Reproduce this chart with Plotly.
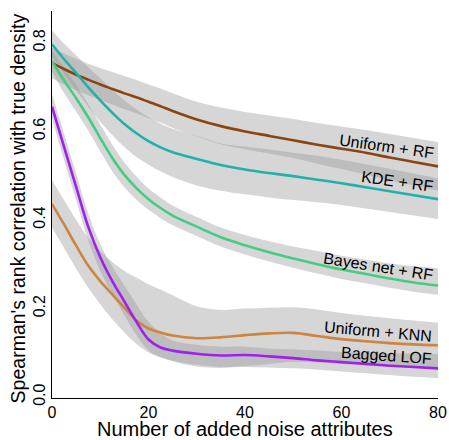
import plotly.graph_objects as go

# ---- data ----
x_noise = [0, 2.5, 5, 7.5, 10, 12.5, 15, 17.5, 20, 22.5, 25, 30, 35, 40, 45, 50, 55, 60, 65, 70, 75, 80]

uniform_rf = [0.755, 0.741, 0.728, 0.717, 0.706, 0.696, 0.686, 0.677, 0.667, 0.657, 0.646, 0.627, 0.612, 0.600, 0.590, 0.580, 0.570, 0.561, 0.552, 0.541, 0.531, 0.521]
uniform_rf_lo = [0.720, 0.706, 0.693, 0.682, 0.671, 0.661, 0.650, 0.641, 0.630, 0.620, 0.608, 0.589, 0.571, 0.560, 0.550, 0.540, 0.527, 0.515, 0.503, 0.490, 0.478, 0.466]
uniform_rf_hi = [0.790, 0.776, 0.764, 0.753, 0.743, 0.734, 0.725, 0.716, 0.706, 0.697, 0.686, 0.667, 0.654, 0.644, 0.636, 0.628, 0.619, 0.611, 0.603, 0.594, 0.585, 0.576]

kde_rf = [0.797, 0.763, 0.732, 0.700, 0.670, 0.642, 0.617, 0.596, 0.578, 0.564, 0.553, 0.538, 0.524, 0.514, 0.506, 0.499, 0.491, 0.483, 0.474, 0.465, 0.456, 0.447]
kde_rf_lo = [0.768, 0.730, 0.693, 0.656, 0.622, 0.592, 0.565, 0.542, 0.525, 0.510, 0.497, 0.478, 0.466, 0.458, 0.451, 0.445, 0.440, 0.434, 0.426, 0.418, 0.410, 0.402]
kde_rf_hi = [0.828, 0.798, 0.772, 0.745, 0.720, 0.694, 0.670, 0.650, 0.632, 0.618, 0.606, 0.590, 0.573, 0.566, 0.559, 0.552, 0.545, 0.536, 0.526, 0.516, 0.505, 0.494]

bayes_rf = [0.758, 0.715, 0.675, 0.632, 0.585, 0.540, 0.502, 0.472, 0.447, 0.427, 0.410, 0.385, 0.361, 0.343, 0.327, 0.313, 0.300, 0.288, 0.278, 0.268, 0.259, 0.252]
bayes_rf_lo = [0.735, 0.687, 0.645, 0.602, 0.555, 0.510, 0.474, 0.446, 0.423, 0.404, 0.388, 0.364, 0.340, 0.322, 0.306, 0.292, 0.279, 0.267, 0.257, 0.247, 0.238, 0.231]
bayes_rf_hi = [0.782, 0.745, 0.705, 0.662, 0.615, 0.570, 0.530, 0.498, 0.471, 0.451, 0.433, 0.407, 0.383, 0.366, 0.352, 0.340, 0.330, 0.319, 0.310, 0.302, 0.296, 0.291]

uniform_knn = [0.436, 0.390, 0.342, 0.297, 0.262, 0.232, 0.202, 0.173, 0.155, 0.146, 0.139, 0.133, 0.135, 0.140, 0.144, 0.145, 0.138, 0.131, 0.126, 0.122, 0.119, 0.117]
uniform_knn_lo = [0.383, 0.337, 0.290, 0.247, 0.210, 0.176, 0.146, 0.120, 0.101, 0.090, 0.081, 0.069, 0.066, 0.070, 0.075, 0.080, 0.078, 0.075, 0.072, 0.070, 0.068, 0.066]
uniform_knn_hi = [0.490, 0.445, 0.400, 0.360, 0.330, 0.305, 0.285, 0.270, 0.255, 0.243, 0.230, 0.205, 0.197, 0.200, 0.202, 0.203, 0.198, 0.190, 0.184, 0.178, 0.173, 0.168]

bagged_lof = [0.656, 0.565, 0.475, 0.385, 0.316, 0.262, 0.216, 0.170, 0.130, 0.112, 0.105, 0.098, 0.094, 0.095, 0.092, 0.088, 0.083, 0.079, 0.075, 0.071, 0.068, 0.065]
bagged_lof_lo = [0.630, 0.535, 0.445, 0.355, 0.285, 0.232, 0.185, 0.140, 0.105, 0.090, 0.082, 0.073, 0.068, 0.068, 0.067, 0.065, 0.062, 0.058, 0.054, 0.050, 0.046, 0.043]
bagged_lof_hi = [0.685, 0.595, 0.505, 0.415, 0.345, 0.295, 0.252, 0.210, 0.170, 0.145, 0.128, 0.118, 0.114, 0.114, 0.110, 0.108, 0.105, 0.102, 0.100, 0.099, 0.098, 0.097]

series_names = ["Uniform + RF", "KDE + RF", "Bayes net + RF", "Uniform + KNN", "Bagged LOF"]
x_ticks = [0, 20, 40, 60, 80]
x_tick_labels = ["0", "20", "40", "60", "80"]
y_ticks = [0.0, 0.2, 0.4, 0.6, 0.8]
y_tick_labels = ["0.0", "0.2", "0.4", "0.6", "0.8"]

# ---- styling ----
FONT = "Liberation Sans, Arial, Helvetica, sans-serif"
colors = ["#8B4513", "#20B2AA", "#43CD80", "#CD853F", "#A020F0"]
band_fill = "rgba(153,153,153,0.4)"

series = [
    (uniform_rf, uniform_rf_lo, uniform_rf_hi),
    (kde_rf, kde_rf_lo, kde_rf_hi),
    (bayes_rf, bayes_rf_lo, bayes_rf_hi),
    (uniform_knn, uniform_knn_lo, uniform_knn_hi),
    (bagged_lof, bagged_lof_lo, bagged_lof_hi),
]

fig = go.Figure()

# confidence bands first
for (mid, lo, hi) in series:
    fig.add_trace(go.Scatter(x=x_noise, y=lo, mode="lines", line=dict(width=0, shape="spline"),
                             hoverinfo="skip", showlegend=False))
    fig.add_trace(go.Scatter(x=x_noise, y=hi, mode="lines", line=dict(width=0, shape="spline"),
                             fill="tonexty", fillcolor=band_fill, hoverinfo="skip", showlegend=False))

# lines on top
for name, (mid, lo, hi), c in zip(series_names, series, colors):
    fig.add_trace(go.Scatter(x=x_noise, y=mid, mode="lines", name=name,
                             line=dict(color=c, width=2.6, shape="spline"), showlegend=False))

# curve labels
label_pos = [(69.4, 0.567, 8), (71.6, 0.486, 8), (67.6, 0.295, 9), (67.6, 0.149, 5), (69.4, 0.093, 4)]
for name, (lx, ly, ang) in zip(series_names, label_pos):
    fig.add_annotation(x=lx, y=ly, xref="x", yref="y", text=name, showarrow=False,
                       textangle=ang, xanchor="center", yanchor="middle",
                       font=dict(family=FONT, size=16, color="black"))

# axis titles
fig.add_annotation(x=0.5, y=-0.08, xref="paper", yref="paper", text="Number of added noise attributes",
                   showarrow=False, xanchor="center", yanchor="middle",
                   font=dict(family=FONT, size=20, color="black"))
fig.add_annotation(x=-0.088, y=0.49, xref="paper", yref="paper",
                   text="Spearman's rank correlation with true density", textangle=-90,
                   showarrow=False, xanchor="center", yanchor="middle",
                   font=dict(family=FONT, size=19.5, color="black"))

fig.update_layout(
    width=449, height=440,
    margin=dict(l=52, r=11, t=11, b=42, autoexpand=False),
    paper_bgcolor="white", plot_bgcolor="white",
    font=dict(family=FONT, size=16, color="black"),
    xaxis=dict(range=[0, 80], tickvals=x_ticks, ticktext=x_tick_labels, showgrid=False, zeroline=False,
               showline=True, linecolor="black", linewidth=1, ticks="", tickfont=dict(size=16),
               automargin=False),
    yaxis=dict(range=[-0.002, 0.872], tickvals=y_ticks, ticktext=y_tick_labels, showgrid=False, zeroline=False,
               showline=True, linecolor="black", linewidth=1, ticks="", tickangle=-90, tickfont=dict(size=16),
               automargin=False),
)

fig.write_html("out.html", config={"displayModeBar": False},
               post_script="document.body.style.margin='0';document.body.style.overflow='hidden';")
